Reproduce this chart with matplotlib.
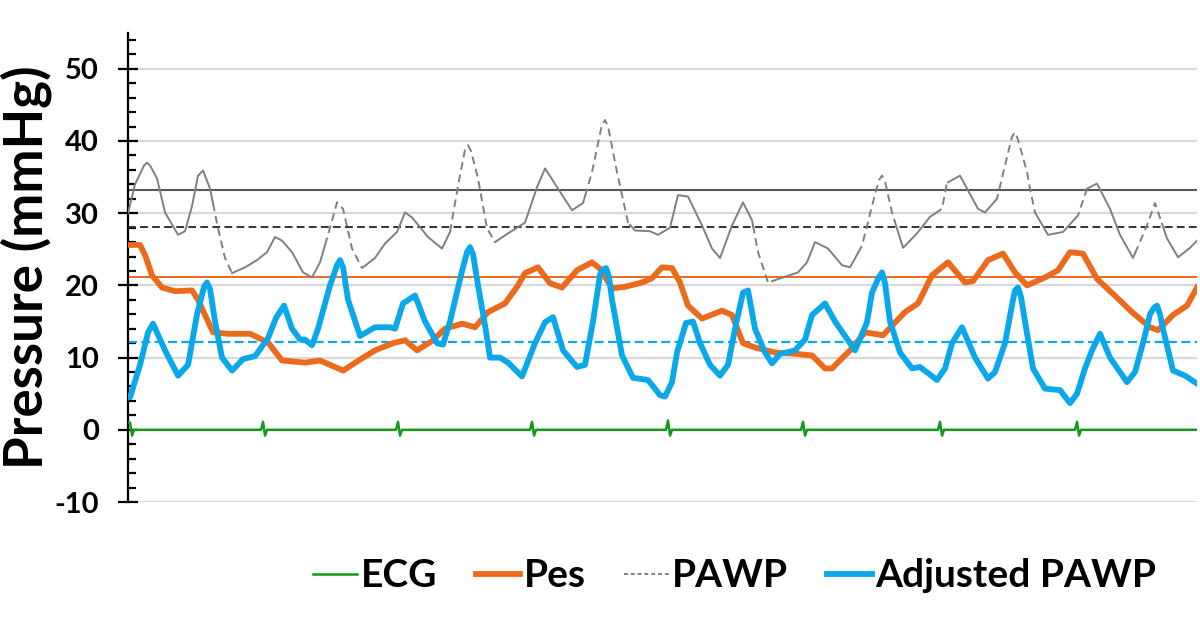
import numpy as np
import matplotlib
matplotlib.use('Agg')
import matplotlib.pyplot as plt
from matplotlib.ticker import MultipleLocator

plt.rcParams['font.family'] = ['Lato', 'DejaVu Sans']
plt.rcParams['font.weight'] = 'bold'
plt.rcParams['axes.unicode_minus'] = False

# time axis in samples (about 135 samples per heart beat)
ecg_t = [0, 2, 4, 6, 133, 135, 137, 139, 268, 270, 272, 274, 402, 404, 406, 408,
         538, 540, 542, 544, 673, 675, 677, 679, 810, 812, 814, 816, 947, 949, 951, 953, 1069]
ecg_v = [1.0, 1.0, -0.8, 0, 0, 1.1, -0.8, 0, 0, 1.1, -0.8, 0, 0, 1.1, -0.8, 0,
         0, 1.3, -0.8, 0, 0, 1.1, -0.8, 0, 0, 1.1, -0.8, 0, 0, 1.1, -0.8, 0, 0]

pes_t = [0, 12, 17, 24, 34, 47, 64, 70, 77, 85, 100, 122, 140, 154, 162, 177, 192, 215,
         234, 247, 265, 277, 289, 304, 317, 334, 347, 360, 367, 377, 390, 397, 410, 422,
         434, 449, 464, 472, 484, 497, 514, 524, 534, 544, 552, 560, 574, 594, 604, 615,
         627, 647, 670, 684, 697, 704, 714, 722, 737, 755, 777, 790, 804, 820, 837, 845,
         860, 875, 887, 899, 917, 930, 942, 955, 969, 989, 1004, 1022, 1030, 1045, 1059, 1069]
pes_v = [25.6, 25.6, 24.2, 21.4, 19.7, 19.2, 19.3, 18.0, 15.9, 13.5, 13.3, 13.3, 12.1,
         9.6, 9.5, 9.3, 9.6, 8.2, 9.9, 11.0, 12.0, 12.4, 11.0, 12.3, 14.0, 14.7, 14.2,
         16.3, 16.8, 17.5, 20.0, 21.7, 22.5, 20.3, 19.7, 22.1, 23.2, 22.3, 19.6, 19.8,
         20.4, 21.0, 22.5, 22.4, 20.4, 17.2, 15.4, 16.5, 15.9, 12.0, 11.4, 10.7, 10.5,
         10.3, 8.5, 8.5, 9.9, 11.0, 13.5, 13.1, 16.3, 17.5, 21.4, 23.2, 20.4, 20.6, 23.5,
         24.4, 21.8, 20.0, 21.1, 22.1, 24.6, 24.4, 20.9, 18.3, 16.3, 14.2, 13.8, 15.9,
         17.2, 19.7]

pawp_t = [0, 7, 16, 19, 22, 29, 37, 50, 57, 64, 70, 75, 82, 90, 97, 104, 117, 129, 139,
          147, 154, 164, 175, 184, 192, 200, 209, 215, 224, 234, 247, 257, 269, 277, 284,
          300, 314, 322, 330, 337, 340, 343, 350, 359, 367, 380, 397, 409, 417, 430, 444,
          455, 464, 474, 477, 480, 489, 500, 507, 522, 530, 542, 550, 560, 574, 584, 592,
          604, 615, 624, 630, 640, 655, 670, 679, 687, 700, 714, 722, 734, 744, 751, 754,
          757, 764, 775, 789, 802, 814, 819, 832, 850, 857, 869, 877, 884, 887, 890, 899,
          902, 907, 920, 935, 950, 959, 969, 982, 992, 1005, 1019, 1027, 1039, 1050, 1062,
          1069]
pawp_v = [30.0, 34.0, 36.6, 37.0, 36.6, 34.8, 30.1, 27.0, 27.5, 31.0, 35.2, 35.9, 33.4,
          27.9, 23.8, 21.7, 22.5, 23.5, 24.6, 26.7, 26.2, 24.6, 21.8, 21.1, 23.2, 27.0,
          31.5, 30.6, 25.1, 22.4, 23.8, 25.8, 27.4, 30.1, 29.4, 26.7, 25.1, 27.4, 33.8,
          38.8, 39.4, 38.6, 34.8, 27.9, 26.0, 27.2, 28.7, 33.6, 36.2, 33.4, 30.4, 31.4,
          35.7, 42.3, 42.9, 42.0, 35.7, 28.7, 27.6, 27.5, 27.0, 28.0, 32.5, 32.3, 28.3,
          25.1, 23.8, 28.3, 31.5, 29.0, 24.6, 20.4, 21.1, 21.8, 23.2, 26.0, 25.1, 22.8,
          22.5, 25.5, 31.0, 34.6, 35.2, 34.4, 30.1, 25.2, 27.2, 29.5, 30.6, 34.2, 35.2,
          30.6, 30.1, 32.0, 36.6, 40.6, 41.2, 40.2, 35.7, 33.4, 30.1, 27.0, 27.4, 29.7,
          33.4, 34.1, 30.6, 27.0, 23.8, 28.3, 31.4, 26.5, 23.9, 25.2, 26.2]

adj_t = [0, 2, 12, 20, 25, 37, 50, 60, 69, 76, 79, 82, 87, 94, 104, 115, 127, 140, 148,
         156, 164, 172, 177, 184, 190, 202, 209, 212, 215, 220, 232, 247, 262, 267, 275,
         287, 297, 309, 315, 322, 334, 339, 342, 345, 350, 357, 362, 372, 380, 394, 407,
         417, 425, 435, 449, 457, 465, 472, 475, 478, 481, 484, 494, 505, 520, 532, 537,
         544, 549, 558, 565, 572, 582, 592, 600, 607, 615, 620, 627, 637, 644, 652, 667,
         677, 684, 697, 707, 717, 727, 739, 744, 751, 754, 757, 762, 772, 784, 792, 809,
         817, 824, 834, 847, 860, 867, 877, 885, 887, 890, 893, 897, 905, 917, 932, 942,
         949, 957, 964, 972, 982, 999, 1007, 1015, 1022, 1026, 1029, 1032, 1035, 1045,
         1057, 1069]
adj_v = [4.5, 4.5, 9.0, 13.5, 14.7, 11.0, 7.5, 9.0, 16.0, 19.8, 20.4, 19.5, 15.0, 10.0,
         8.2, 9.8, 10.2, 12.7, 15.5, 17.2, 14.0, 12.5, 12.5, 11.7, 14.0, 20.0, 22.8, 23.5,
         22.5, 18.0, 13.0, 14.2, 14.2, 14.0, 17.5, 18.6, 15.0, 12.0, 11.8, 15.0, 22.0,
         24.6, 25.3, 24.3, 20.0, 14.5, 10.0, 10.0, 9.3, 7.4, 12.0, 14.9, 15.6, 11.0, 8.7,
         9.0, 15.0, 21.5, 22.2, 22.4, 21.2, 18.0, 10.3, 7.2, 6.9, 4.8, 4.6, 6.6, 10.7,
         14.8, 15.0, 12.0, 9.0, 7.5, 9.0, 14.0, 19.0, 19.3, 14.0, 10.7, 9.2, 10.5, 11.0,
         12.5, 15.9, 17.5, 15.0, 13.0, 11.0, 14.9, 19.0, 21.2, 21.8, 20.3, 15.0, 10.7,
         8.5, 8.7, 6.9, 8.5, 12.0, 14.2, 10.0, 7.1, 8.0, 12.0, 18.0, 19.3, 19.7, 18.4,
         15.0, 8.5, 5.7, 5.5, 3.7, 5.0, 8.5, 11.0, 13.3, 10.0, 6.6, 8.0, 12.0, 16.0, 16.9,
         17.2, 16.0, 14.0, 8.2, 7.5, 6.4]

# mean values drawn as horizontal lines
pawp_mean_exp = 33.2
pawp_mean = 28.1
pes_mean = 21.1
adj_mean = 12.1

# stretches of the PAWP trace drawn dashed
dashed_ranges = [(85, 104), (197, 237), (322, 367), (457, 502), (625, 644),
                 (730, 767), (807, 820), (867, 907), (947, 960), (1007, 1034)]

C_ECG = '#139A1D'
C_PES = '#EC6A1C'
C_PAWP = '#808080'
C_ADJ = '#0AA8EA'

fig = plt.figure(figsize=(12, 6.28), dpi=100)
ax = fig.add_axes([0.1067, 0.2006, 0.8908, 0.7474])

for y in [-10, 10, 20, 30, 40, 50]:
    ax.axhline(y, color='#D9D9D9', lw=1.6, zorder=0)

t_end = pawp_t[-1]
ax.plot([0, t_end], [pawp_mean_exp, pawp_mean_exp], color='#5A5A5A', lw=1.5, zorder=2)
ax.plot([0, t_end], [pawp_mean, pawp_mean], color='#333333', lw=1.4, ls=(0, (4, 2.2)), zorder=2)
ax.plot([0, t_end], [pes_mean, pes_mean], color=C_PES, lw=1.4, zorder=2)
ax.plot([0, t_end], [adj_mean, adj_mean], color=C_ADJ, lw=1.6, ls=(0, (4, 2)), zorder=2)

# PAWP: solid and dashed pieces
pt = np.array(pawp_t, dtype=float)
pv = np.array(pawp_v, dtype=float)
edges = [0]
for a, b in dashed_ranges:
    edges += [a, b]
edges.append(t_end)
for i in range(len(edges) - 1):
    a, b = edges[i], edges[i + 1]
    inner = (pt > a) & (pt < b)
    xs = np.concatenate([[a], pt[inner], [b]])
    ys = np.concatenate([[np.interp(a, pt, pv)], pv[inner], [np.interp(b, pt, pv)]])
    style = (0, (4, 2.5)) if i % 2 == 1 else '-'
    ax.plot(xs, ys, color=C_PAWP, lw=1.4, ls=style, zorder=3, solid_joinstyle='round')

ax.plot(ecg_t, ecg_v, color=C_ECG, lw=1.8, zorder=4, label='ECG')
ax.plot(pes_t, pes_v, color=C_PES, lw=4.2, zorder=4, label='Pes', solid_joinstyle='round')
ax.plot([], [], color=C_PAWP, lw=1.4, ls=(0, (2, 1.5)), label='PAWP')
ax.plot(adj_t, adj_v, color=C_ADJ, lw=4.2, zorder=5, label='Adjusted PAWP',
        solid_joinstyle='round')

ax.set_xlim(0, t_end)
ax.set_ylim(-10, 55)
ax.yaxis.set_minor_locator(MultipleLocator(2))
ax.set_yticks([-10, 0, 10, 20, 30, 40, 50])
ax.tick_params(axis='y', which='major', direction='inout', length=14, width=1.6,
               labelsize=21, pad=14)
ax.tick_params(axis='y', which='minor', direction='in', length=6, width=1.6)
for lab in ax.get_yticklabels():
    lab.set_fontweight('bold')
ax.set_xticks([])
for s in ['top', 'right', 'bottom']:
    ax.spines[s].set_visible(False)
ax.spines['left'].set_linewidth(1.6)
ax.set_ylabel('Pressure (mmHg)', fontsize=38, fontweight='bold', labelpad=2)

fig.legend(loc='center', bbox_to_anchor=(0.612, 0.083), ncol=4, frameon=False,
           handlelength=1.15, handletextpad=0.08, columnspacing=1.0,
           prop={'weight': 'bold', 'size': 28})

fig.savefig('out.png', dpi=100)
